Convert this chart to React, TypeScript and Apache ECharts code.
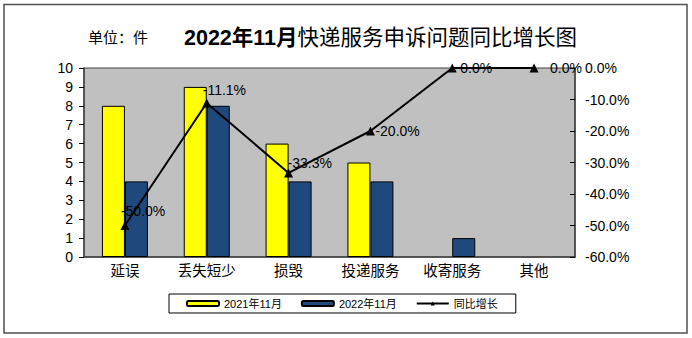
import React, { useEffect, useRef } from "react";
import * as echarts from "echarts";

const categories = ["延误", "丢失短少", "损毁", "投递服务", "收寄服务", "其他"];
const values2021 = [8, 9, 6, 5, 0, 0];
const values2022 = [4, 8, 4, 4, 1, 0];
const growth = [-50.0, -11.1, -33.3, -20.0, 0.0, 0.0];
const leftTicks = { min: 0, max: 10, interval: 1 };
const rightTicks = { min: -60, max: 0, interval: 10 };
const seriesNames = ["2021年11月", "2022年11月", "同比增长"];

const FONT = "'Liberation Sans', Arial, 'Noto Sans CJK SC', sans-serif";

export default function App() {
  const ref = useRef<HTMLDivElement>(null);
  useEffect(() => {
    if (!ref.current) return;
    const chart = echarts.init(ref.current, null, { renderer: "svg" });
    const labelOffsets = [
      [-4, -15],
      [-4, -13],
      [-1, -10],
      [5, 0],
      [8, 0],
      [16, 0],
    ];
    const barData = (arr: number[]) =>
      arr.map((v) => (v === 0 ? { value: v, itemStyle: { borderWidth: 0 } } : v));
    const option = {
      animation: false,
      backgroundColor: "#fff",
      textStyle: { fontFamily: FONT },
      title: {
        left: 179,
        top: 22,
        text: "{a|2022年11月}{b|快递服务申诉问题同比增长图}",
        textStyle: {
          rich: {
            a: { fontSize: 21.5, fontWeight: "bold", color: "#000", fontFamily: FONT },
            b: { fontSize: 21.5, fontWeight: "normal", color: "#000", fontFamily: FONT },
          },
        },
      },
      graphic: [
        {
          type: "rect",
          shape: { x: 4, y: 4.5, width: 683, height: 328.5 },
          style: { fill: "none", stroke: "#505050", lineWidth: 1.5 },
          silent: true,
        },
        {
          type: "text",
          left: 88,
          top: 30,
          style: { text: "单位：件", fontSize: 15, fill: "#000", fontFamily: FONT },
        },
      ],
      legend: {
        left: 169,
        top: 294,
        itemWidth: 32,
        itemHeight: 5,
        itemGap: 19,
        padding: [4, 18, 4, 17],
        borderColor: "#000",
        borderWidth: 1,
        textStyle: { fontSize: 11, color: "#000", fontFamily: FONT },
        data: seriesNames,
      },
      grid: {
        left: 84,
        right: 117,
        top: 68,
        bottom: 81,
        show: true,
        backgroundColor: "#C0C0C0",
        borderColor: "#404040",
        borderWidth: 1,
      },
      xAxis: {
        type: "category",
        data: categories,
        axisLine: { lineStyle: { color: "#404040", width: 1.5 } },
        axisTick: { inside: true, length: 4, lineStyle: { color: "#000" } },
        axisLabel: { color: "#000", fontSize: 14.5, margin: 7, fontFamily: FONT },
      },
      yAxis: [
        {
          type: "value",
          min: leftTicks.min,
          max: leftTicks.max,
          interval: leftTicks.interval,
          splitLine: { show: false },
          axisLine: { show: true, lineStyle: { color: "#404040", width: 1.5 } },
          axisTick: { show: true, length: 5, lineStyle: { color: "#000" } },
          axisLabel: { color: "#000", fontSize: 14, margin: 11, fontFamily: FONT },
        },
        {
          type: "value",
          position: "right",
          min: rightTicks.min,
          max: rightTicks.max,
          interval: rightTicks.interval,
          splitLine: { show: false },
          axisLine: { show: true, lineStyle: { color: "#404040", width: 1.5 } },
          axisTick: { show: true, inside: true, length: 5, lineStyle: { color: "#000" } },
          axisLabel: {
            color: "#000",
            fontSize: 14,
            margin: 10,
            fontFamily: FONT,
            formatter: (v: number) => v.toFixed(1) + "%",
          },
        },
      ],
      series: [
        {
          name: seriesNames[0],
          type: "bar",
          data: barData(values2021),
          barWidth: 23,
          barGap: "0%",
          itemStyle: { color: "#FFFF00", borderColor: "#000", borderWidth: 1 },
        },
        {
          name: seriesNames[1],
          type: "bar",
          data: barData(values2022),
          barWidth: 23,
          barGap: "0%",
          itemStyle: { color: "#1F497D", borderColor: "#000", borderWidth: 1 },
        },
        {
          name: seriesNames[2],
          type: "line",
          yAxisIndex: 1,
          symbol: "triangle",
          symbolSize: 9,
          lineStyle: { color: "#000", width: 2 },
          itemStyle: { color: "#000" },
          data: growth.map((v, i) => ({ value: v, label: { offset: labelOffsets[i] } })),
          label: {
            show: true,
            position: "inside",
            align: "left",
            verticalAlign: "middle",
            color: "#000",
            fontSize: 14,
            fontFamily: FONT,
            formatter: (p: any) => Number(p.value).toFixed(1) + "%",
          },
          z: 5,
        },
      ],
    };
    chart.setOption(option as any);
    return () => chart.dispose();
  }, []);
  return (
    <div
      ref={ref}
      style={{ position: "absolute", left: 0, top: 0, width: 692, height: 338 }}
    />
  );
}
